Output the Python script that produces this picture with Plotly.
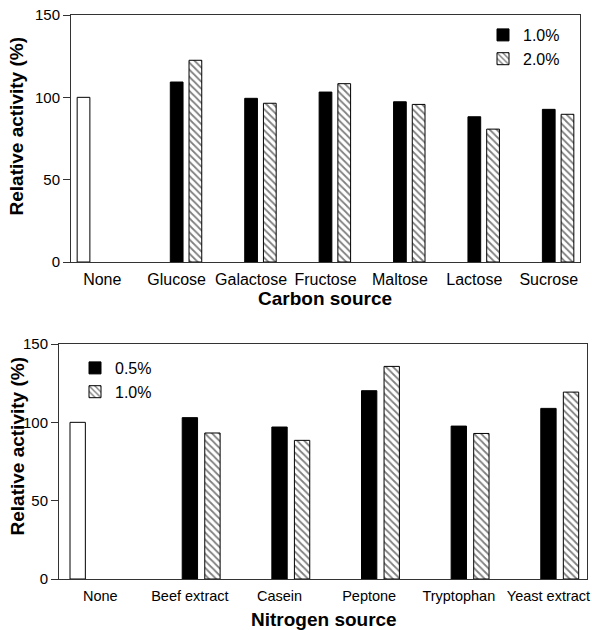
import plotly.graph_objects as go
from plotly.subplots import make_subplots

# ---- data ----
carbon_categories = ["None", "Glucose", "Galactose", "Fructose", "Maltose", "Lactose", "Sucrose"]
carbon_control = [100, None, None, None, None, None, None]
carbon_1pct = [None, 109.3, 99.4, 103.2, 97.3, 88.2, 92.7]
carbon_2pct = [None, 122.5, 96.4, 108.3, 95.7, 80.7, 89.7]

nitrogen_categories = ["None", "Beef extract", "Casein", "Peptone", "Tryptophan", "Yeast extract"]
nitrogen_control = [100, None, None, None, None, None]
nitrogen_05pct = [None, 103.0, 97.0, 120.2, 97.6, 108.9]
nitrogen_10pct = [None, 93.2, 88.5, 135.7, 92.9, 119.3]

y_ticks = [0, 50, 100, 150]

W, H = 592, 630
FONT = "Liberation Sans, Arial, sans-serif"
LINE = "#333333"

fig = make_subplots(rows=2, cols=1)

def add_group(cats, ctrl, a, b, name_a, name_b, row, legend):
    fig.add_trace(go.Bar(x=cats, y=ctrl, showlegend=False,
                         marker=dict(color="white", line=dict(color="black", width=1))),
                  row=row, col=1)
    fig.add_trace(go.Bar(x=cats, y=a, name=name_a, legend=legend,
                         marker=dict(color="black", line=dict(color="black", width=1))),
                  row=row, col=1)
    fig.add_trace(go.Bar(x=cats, y=b, name=name_b, legend=legend,
                         marker=dict(color="white", line=dict(color="black", width=1),
                                     pattern=dict(shape="\\", fgcolor="black", bgcolor="white",
                                                  size=5, solidity=0.35))),
                  row=row, col=1)

add_group(carbon_categories, carbon_control, carbon_1pct, carbon_2pct, "1.0%", "2.0%", 1, "legend")
add_group(nitrogen_categories, nitrogen_control, nitrogen_05pct, nitrogen_10pct, "0.5%", "1.0%", 2, "legend2")

def px_x(p):
    return p / W

def px_y(p):
    return 1 - p / H

axis_common = dict(showline=True, linecolor=LINE, linewidth=1, mirror=True,
                   showgrid=False, zeroline=False, automargin=False)

fig.update_layout(
    width=W, height=H,
    margin=dict(l=0, r=0, t=0, b=0, autoexpand=False),
    paper_bgcolor="white", plot_bgcolor="white",
    barmode="group", bargap=0.245, bargroupgap=0.32,
    font=dict(family=FONT, color="black", size=16),
    xaxis=dict(domain=[px_x(71), px_x(580)], range=[-0.42, 6.42], ticks="",
               tickfont=dict(size=16), ticklabelstandoff=3, **axis_common),
    yaxis=dict(domain=[px_y(262), px_y(15)], range=[0, 150], tickvals=y_ticks,
               ticks="outside", ticklen=7, tickcolor=LINE, tickfont=dict(size=15), **axis_common),
    xaxis2=dict(domain=[px_x(59), px_x(587)], range=[-0.46, 5.43], ticks="",
                tickfont=dict(size=14.5), ticklabelstandoff=4, **axis_common),
    yaxis2=dict(domain=[px_y(579), px_y(344)], range=[0, 150], tickvals=y_ticks,
                ticks="outside", ticklen=7, tickcolor=LINE, tickfont=dict(size=15), **axis_common),
    legend=dict(x=px_x(483), y=px_y(18), xanchor="left", yanchor="top",
                bgcolor="rgba(0,0,0,0)", font=dict(size=16), tracegroupgap=0),
    legend2=dict(x=px_x(75), y=px_y(351), xanchor="left", yanchor="top",
                 bgcolor="rgba(0,0,0,0)", font=dict(size=16), tracegroupgap=0),
    annotations=[
        dict(text="<b>Relative activity (%)</b>", x=px_x(16.5), y=px_y(127), xref="paper", yref="paper",
             textangle=-90, showarrow=False, font=dict(size=19), xanchor="center", yanchor="middle"),
        dict(text="<b>Relative activity (%)</b>", x=px_x(16.5), y=px_y(447), xref="paper", yref="paper",
             textangle=-90, showarrow=False, font=dict(size=19), xanchor="center", yanchor="middle"),
        dict(text="<b>Carbon source</b>", x=px_x(325), y=px_y(298), xref="paper", yref="paper",
             showarrow=False, font=dict(size=19), xanchor="center", yanchor="middle"),
        dict(text="<b>Nitrogen source</b>", x=px_x(324), y=px_y(619), xref="paper", yref="paper",
             showarrow=False, font=dict(size=19), xanchor="center", yanchor="middle"),
    ],
)

fig.write_html("out.html")
